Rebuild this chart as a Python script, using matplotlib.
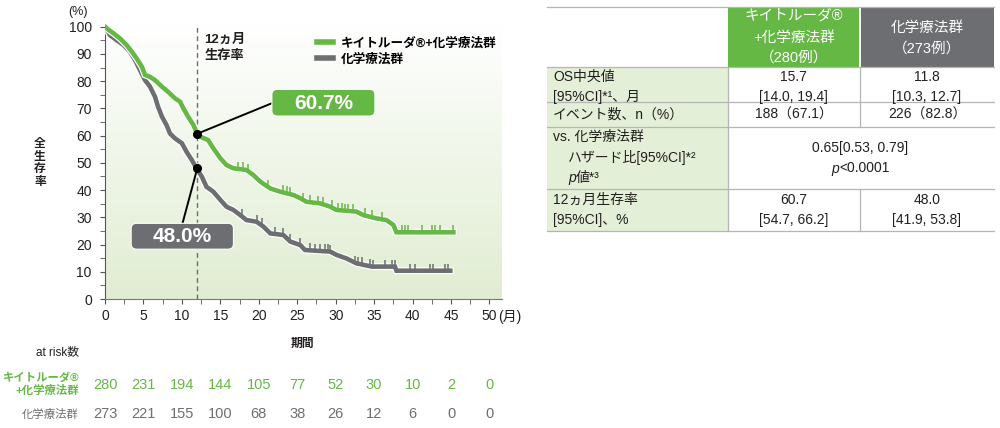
import numpy as np
import matplotlib
matplotlib.use("Agg")
import matplotlib.pyplot as plt
from matplotlib.patches import FancyBboxPatch, Rectangle
from matplotlib.lines import Line2D
from matplotlib.colors import LinearSegmentedColormap
import matplotlib.patheffects as pe
import matplotlib.transforms as mtransforms

plt.rcParams['font.family'] = ['Liberation Sans', 'Noto Sans CJK JP', 'DejaVu Sans']

# ---------------- data ----------------
keytruda_t = [0, 0.5, 1.1, 1.95, 2.8, 3.5, 4.1, 4.8, 5.2, 5.85, 6.5, 7.4, 8.2, 9.1, 9.75,
              10.2, 10.8, 11.5, 12.0, 12.4, 13.4, 14.1, 15.0, 15.8, 16.7, 18.4, 19.3, 20.2,
              21.5, 22.8, 24.5, 25.4, 26.2, 28.0, 29.3, 30.1, 32.7, 33.6, 35.3, 36.6, 37.5,
              37.9, 45.3]
keytruda_s = [100, 98.8, 97.6, 95.7, 93.3, 90.8, 88.4, 85.3, 82.3, 81.6, 80.4, 78.0, 76.1,
              73.7, 72.5, 70.0, 67.0, 63.9, 60.7, 59.6, 58.4, 55.3, 51.7, 49.2, 48.0, 47.4,
              45.5, 43.1, 40.6, 39.4, 38.2, 37.0, 35.7, 35.1, 33.9, 32.7, 32.1, 30.8, 29.6,
              29.0, 27.2, 24.5, 24.5]
chemo_t = [0, 0.65, 1.5, 2.4, 3.25, 3.9, 4.55, 5.2, 5.85, 6.5, 6.9, 7.4, 8.0, 8.45, 9.1,
           10.0, 10.6, 11.3, 11.9, 12.6, 13.2, 14.1, 15.0, 15.8, 16.7, 17.6, 18.4, 19.7,
           20.6, 21.5, 23.2, 24.1, 25.4, 26.0, 29.3, 30.1, 31.4, 32.7, 34.7, 37.7, 37.9, 44.9]
chemo_s = [100, 96.9, 95.1, 93.3, 90.8, 87.8, 84.1, 80.4, 78.0, 74.3, 70.6, 67.0, 63.9,
           60.8, 59.0, 57.2, 54.1, 51.0, 48.0, 44.9, 41.2, 39.4, 36.4, 33.9, 32.7, 30.8,
           29.0, 28.4, 26.6, 24.1, 23.5, 21.1, 19.8, 18.0, 17.4, 16.2, 14.9, 13.1, 11.9,
           11.9, 10.4, 10.4]
keytruda_censor = [17.3, 18.0, 18.6, 21.2, 23.1, 23.7, 24.1, 25.7, 26.7, 27.7, 28.3, 29.5,
                   30.3, 30.8, 31.2, 31.6, 32.2, 33.8, 34.7, 36.0, 38.6, 39.0, 39.4, 41.2,
                   42.5, 42.9, 43.6, 45.3]
chemo_censor = [17.8, 19.8, 20.4, 22.1, 23.1, 24.1, 25.4, 26.7, 27.3, 28.0, 28.6, 29.0,
                29.3, 32.5, 32.9, 33.4, 34.5, 34.9, 36.4, 37.3, 37.7, 39.7, 40.3, 42.3,
                42.7, 44.2, 44.6]
landmark_month = 12
keytruda_12m = 60.7
chemo_12m = 48.0
risk_months = [0, 5, 10, 15, 20, 25, 30, 35, 40, 45, 50]
keytruda_risk = [280, 231, 194, 144, 105, 77, 52, 30, 10, 2, 0]
chemo_risk = [273, 221, 155, 100, 68, 38, 26, 12, 6, 0, 0]
x_ticks = [0, 5, 10, 15, 20, 25, 30, 35, 40, 45, 50]
y_ticks = [0, 10, 20, 30, 40, 50, 60, 70, 80, 90, 100]

label_keytruda = "キイトルーダ®+化学療法群"
label_chemo = "化学療法群"

GREEN = '#66b845'
GRAY = '#6d6e71'
TXT = '#231f20'

fig = plt.figure(figsize=(10, 4.28), dpi=100)
ax = fig.add_axes([0.105, 0.3014, 0.3968, 0.6425])
ax.set_xlim(0, 51.6)
ax.set_ylim(0, 101)

# gradient background
cmap = LinearSegmentedColormap.from_list('bg', [(0, '#e1edd2'), (0.45, '#eef5e6'), (1, '#ffffff')])
grad = np.linspace(0, 1, 256)[:, None]
ax.imshow(grad, extent=[0, 1, 0, 1], transform=ax.transAxes, aspect='auto',
          cmap=cmap, origin='lower', zorder=0)

halo = [pe.Stroke(linewidth=5.0, foreground='white'), pe.Normal()]
ax.plot(chemo_t, chemo_s, color=GRAY, lw=3.3, zorder=3, path_effects=halo,
        solid_joinstyle='miter')
ax.plot(keytruda_t, keytruda_s, color=GREEN, lw=3.3, zorder=4, path_effects=halo,
        solid_joinstyle='miter')

cg = np.interp(chemo_censor, chemo_t, chemo_s)
ax.vlines(chemo_censor, cg, cg + 2.6, color=GRAY, lw=1.1, zorder=3)
kg = np.interp(keytruda_censor, keytruda_t, keytruda_s)
ax.vlines(keytruda_censor, kg, kg + 2.6, color=GREEN, lw=1.1, zorder=4)

# landmark
ax.plot([landmark_month, landmark_month], [0, 100], color='#6d6e71', lw=1.0,
        ls=(0, (3.5, 2.5)), zorder=2)
ax.text(landmark_month + 0.9, 97.5, "12ヵ月\n生存率", fontsize=9.5, color=TXT,
        ha='left', va='top', linespacing=1.4, fontweight='bold')

# callouts
ax.plot([landmark_month, 21.7], [keytruda_12m, 71.9], color='black', lw=1.4, zorder=5)
ax.plot([landmark_month, 10.1], [chemo_12m, 28.0], color='black', lw=1.4, zorder=5)
ax.plot([landmark_month], [keytruda_12m], 'o', color='black', ms=5.5, zorder=6)
ax.plot([landmark_month], [chemo_12m], 'o', color='black', ms=5.5, zorder=6)
asp = 7.69 / 2.723
for (x0, x1, y0, y1, col, txt) in [(21.7, 35.1, 67.2, 77.0, GREEN, f"{keytruda_12m:.1f}%"),
                                   (3.4, 16.7, 18.3, 27.8, GRAY, f"{chemo_12m:.1f}%")]:
    box = FancyBboxPatch((x0, y0), x1 - x0, y1 - y0,
                         boxstyle="round,pad=0,rounding_size=0.7",
                         mutation_aspect=asp, fc=col, ec='white', lw=0.8, zorder=6)
    ax.add_patch(box)
    ax.text((x0 + x1) / 2, (y0 + y1) / 2 - 0.2, txt, color='white', fontsize=15,
            fontweight='bold', ha='center', va='center', zorder=7)

# axes styling
for s in ['top', 'right']:
    ax.spines[s].set_visible(False)
ax.spines['left'].set_bounds(0, 100)
ax.spines['left'].set_color('#555555')
ax.spines['bottom'].set_color('#777777')
ax.set_xticks(x_ticks)
ax.set_xticks(np.arange(2.5, 50, 5), minor=True)
ax.set_yticks(y_ticks)
ax.set_yticks(np.arange(5, 100, 10), minor=True)
ax.set_xticklabels([str(v) for v in x_ticks])
ax.set_yticklabels([str(v) for v in y_ticks])
ax.tick_params(axis='both', which='both', direction='out', color='#555555', labelsize=10,
               labelcolor=TXT)
ax.tick_params(axis='y', which='major', length=3.5, pad=6)
ax.tick_params(axis='y', which='minor', length=3.5)
ax.tick_params(axis='x', which='major', length=3.5, pad=4)
ax.tick_params(axis='x', which='minor', length=3.5)
ax.annotate("(月)", xy=(50, 0), xycoords=('data', 'axes fraction'), xytext=(6, -12.9),
            textcoords='offset points', ha='left', va='center', fontsize=10, color=TXT)

# legend
handles = [Line2D([], [], color=GREEN, lw=4), Line2D([], [], color=GRAY, lw=4)]
ax.legend(handles, [label_keytruda, label_chemo], loc='upper left',
          bbox_to_anchor=(0.535, 0.952), frameon=False, handlelength=1.25,
          handletextpad=0.6, labelspacing=0.25, borderpad=0, borderaxespad=0,
          prop={'weight': 'bold', 'size': 9.1})

# overlay axes in pixel coords for free text & table
tax = fig.add_axes([0, 0, 1, 1], zorder=-1)
tax.set_xlim(0, 1000)
tax.set_ylim(428, 0)
tax.axis('off')

tax.text(78, 12, "(%)", ha='center', va='center', fontsize=9, color=TXT)
tax.text(40, 163, "全\n生\n存\n率", ha='center', va='center', fontsize=8.5,
         fontweight='bold', linespacing=1.05, color=TXT)
tax.text(302, 344, "期間", ha='center', va='center', fontsize=8.5, fontweight='bold', color=TXT)
tax.text(79, 352, "at risk数", ha='right', va='center', fontsize=8.5, color=TXT)
tax.text(79, 384, "キイトルーダ®\n+化学療法群", ha='right', va='center', fontsize=8.2,
         color=GREEN, fontweight='bold', linespacing=1.3)
tax.text(79, 414, "化学療法群", ha='right', va='center', fontsize=8.2, color=GRAY)

# at-risk numbers
btr = mtransforms.blended_transform_factory(ax.transData, tax.transData)
for m, k, c in zip(risk_months, keytruda_risk, chemo_risk):
    ax.text(m, 385, str(k), transform=btr, ha='center', va='center', fontsize=10.5,
            color=GREEN, clip_on=False)
    ax.text(m, 414, str(c), transform=btr, ha='center', va='center', fontsize=10.5,
            color=GRAY, clip_on=False)

# ---------------- table ----------------
X0, X1, X2, X3 = 547, 727.5, 860, 994
rows = [7, 67, 102, 127, 188.5, 231]
LINE = '#b5b5b5'
LG = '#e3efd6'
fs = 10
hfs = 10.5
# header fills
tax.add_patch(Rectangle((X1, rows[0]), X2 - X1 - 1.5, rows[1] - rows[0], fc=GREEN, ec='none'))
tax.add_patch(Rectangle((X2 + 1, rows[0]), X3 - X2 - 1, rows[1] - rows[0], fc=GRAY, ec='none'))
tax.add_patch(Rectangle((X0, rows[1]), X1 - X0, rows[5] - rows[1], fc=LG, ec='none'))
for y in rows:
    tax.plot([X0, X3], [y, y], color=LINE, lw=0.9)
tax.plot([X1, X1], [rows[1], rows[5]], color=LINE, lw=0.9)
tax.plot([X2, X2], [rows[1], rows[3]], color=LINE, lw=0.9)
tax.plot([X2, X2], [rows[4], rows[5]], color=LINE, lw=0.9)

c2 = (X1 + X2) / 2
c3 = (X2 + X3) / 2
tax.text(c2, 16, "キイトルーダ®", ha='center', va='center', fontsize=hfs, color='white')
tax.text(c2, 37.5, "+化学療法群", ha='center', va='center', fontsize=hfs, color='white')
tax.text(c2, 58, "（280例）", ha='center', va='center', fontsize=hfs, color='white')
tax.text(c3, 28, "化学療法群", ha='center', va='center', fontsize=hfs, color='white')
tax.text(c3, 48.5, "（273例）", ha='center', va='center', fontsize=hfs, color='white')

L = X0 + 6
tax.text(L, 77, "OS中央値", ha='left', va='center', fontsize=fs, color=TXT)
tax.text(L, 96.5, "[95%CI]*¹、月", ha='left', va='center', fontsize=fs, color=TXT)
tax.text(L, 114.5, "イベント数、n（%）", ha='left', va='center', fontsize=fs, color=TXT)
tax.text(L, 137, "vs. 化学療法群", ha='left', va='center', fontsize=fs, color=TXT)
tax.text(L + 15, 157.5, "ハザード比[95%CI]*²", ha='left', va='center', fontsize=fs, color=TXT)
tax.text(L + 15, 178, "p", ha='left', va='center', fontsize=fs, color=TXT,
         family='Liberation Sans', style='italic')
tax.text(L + 23, 178, "値*³", ha='left', va='center', fontsize=fs, color=TXT)
tax.text(L, 200, "12ヵ月生存率", ha='left', va='center', fontsize=fs, color=TXT)
tax.text(L, 220, "[95%CI]、%", ha='left', va='center', fontsize=fs, color=TXT)

tax.text(c2, 77, "15.7", ha='center', va='center', fontsize=fs, color=TXT)
tax.text(c2, 96.5, "[14.0, 19.4]", ha='center', va='center', fontsize=fs, color=TXT)
tax.text(c3, 77, "11.8", ha='center', va='center', fontsize=fs, color=TXT)
tax.text(c3, 96.5, "[10.3, 12.7]", ha='center', va='center', fontsize=fs, color=TXT)
tax.text(c2, 114.5, "188（67.1）", ha='center', va='center', fontsize=fs, color=TXT)
tax.text(c3, 114.5, "226（82.8）", ha='center', va='center', fontsize=fs, color=TXT)
tax.text(X2, 148, "0.65[0.53, 0.79]", ha='center', va='center', fontsize=fs, color=TXT)
tax.text(X2 - 29, 168.5, "p", ha='left', va='center', fontsize=fs, color=TXT,
         family='Liberation Sans', style='italic')
tax.text(X2 - 21, 168.5, "<0.0001", ha='left', va='center', fontsize=fs, color=TXT)
tax.text(c2, 200, "60.7", ha='center', va='center', fontsize=fs, color=TXT)
tax.text(c2, 220, "[54.7, 66.2]", ha='center', va='center', fontsize=fs, color=TXT)
tax.text(c3, 200, "48.0", ha='center', va='center', fontsize=fs, color=TXT)
tax.text(c3, 220, "[41.9, 53.8]", ha='center', va='center', fontsize=fs, color=TXT)

fig.savefig("out.png", dpi=100)
